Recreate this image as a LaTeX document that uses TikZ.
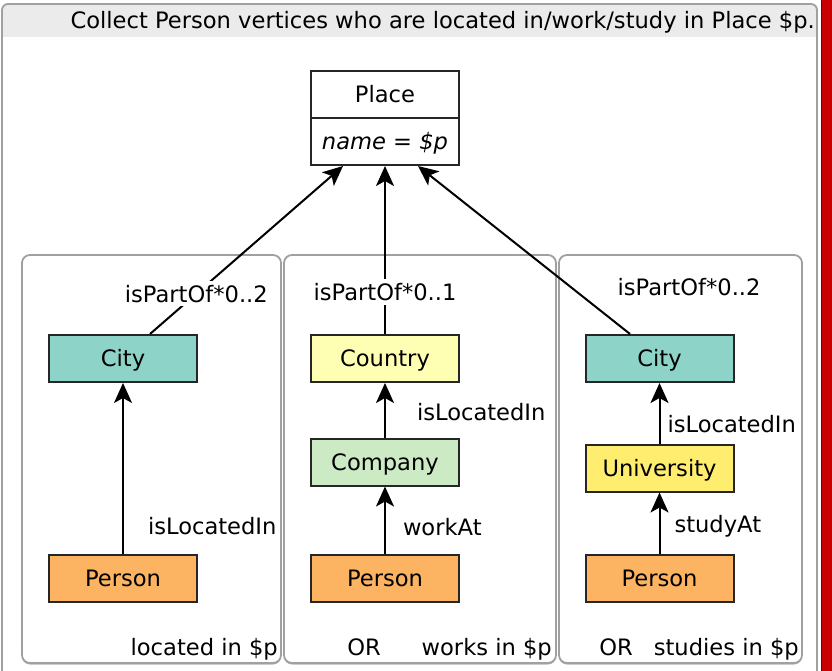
\documentclass[tikz,border=0pt]{standalone}
\usepackage{fontspec}
\setmainfont{DejaVu Sans}
\usetikzlibrary{positioning,arrows.meta,shadows}

\definecolor{cityteal}{HTML}{8DD3C7}
\definecolor{countryyellow}{HTML}{FFFFB3}
\definecolor{companygreen}{HTML}{CCEBC5}
\definecolor{personorange}{HTML}{FDB462}
\definecolor{uniyellow}{HTML}{FFED6F}
\definecolor{framegray}{HTML}{A0A0A0}
\definecolor{headgray}{HTML}{EBEBEB}
\definecolor{barred}{HTML}{C80000}

\begin{document}
\begin{tikzpicture}[
  x=1pt, y=-1pt,
  every node/.style={font=\fontsize{22.6pt}{27pt}\selectfont},
  vertex/.style={draw=black!85, line width=2pt, minimum width=148pt,
    minimum height=47pt, inner sep=0pt, text height=16pt, text depth=0pt},
  panel/.style={draw=framegray, line width=1.8pt, rounded corners=8pt, fill=white,
    drop shadow={shadow xshift=0pt, shadow yshift=-1.5pt, fill=black!30, opacity=1}},
  rel/.style={line width=2pt, -{Stealth[length=20pt, width=18pt, inset=5pt]}},
  lbl/.style={inner sep=4pt},
  note/.style={anchor=base east, inner sep=0pt}
]
  \useasboundingbox (0,0) rectangle (832,671);
  \clip (0,0) rectangle (832,671);

  % frame and title bar
  \begin{scope}
    \clip (0,0) rectangle (832,37);
    \fill[headgray, rounded corners=6pt] (2,4) rectangle (817,100);
  \end{scope}
  \draw[framegray, line width=1.8pt, rounded corners=6pt] (2,4) rectangle (817,720);
  \fill[barred, draw=barred!60!black, line width=1pt] (821.5,-2) rectangle (833,673);
  \node[note] (title) at (815,29) {Collect Person vertices who are located in/work/study in Place \$p.};

  % panels
  \node[panel, minimum width=259pt, minimum height=408pt] (leftpanel) at (151.5,459) {};
  \node[panel, minimum width=272pt, minimum height=408pt] (midpanel) at (420,459) {};
  \node[panel, minimum width=243pt, minimum height=408pt] (rightpanel) at (680.5,459) {};

  % place
  \node[vertex, fill=white] (place) at (385,94.5) {Place};
  \node[vertex, fill=white, below=-2pt of place] (placeattr) {\textit{name = \$p}};

  % located in
  \node[vertex, fill=cityteal] (lcity) at (123,358.5) {City};
  \node[vertex, fill=personorange] (lperson) at (123,578) {Person};

  % works in
  \node[vertex, fill=countryyellow] (country) at (385,358.5) {Country};
  \node[vertex, fill=companygreen] (company) at (385,462) {Company};
  \node[vertex, fill=personorange] (mperson) at (385,578) {Person};

  % studies in
  \node[vertex, fill=cityteal] (rcity) at (659.5,358.5) {City};
  \node[vertex, fill=uniyellow] (university) at (659.5,468) {University};
  \node[vertex, fill=personorange] (rperson) at (659.5,578) {Person};

  % edges
  \draw[rel] ([xshift=27pt]lcity.north) -- node[lbl, fill=white, pos=0.24] {isPartOf*0..2} ([xshift=-42pt]placeattr.south);
  \draw[rel] (country) -- node[lbl, fill=white, pos=0.25] {isPartOf*0..1} (placeattr);
  \draw[rel] ([xshift=-29.5pt]rcity.north) -- node[lbl, pos=0.28, right=42pt] {isPartOf*0..2} ([xshift=33pt]placeattr.south);

  \draw[rel] (lperson) -- node[lbl, pos=0.16, right=20pt] {isLocatedIn} (lcity);
  \draw[rel] (company) -- node[lbl, pos=0.46, right=27pt] {isLocatedIn} (country);
  \draw[rel] (mperson) -- node[lbl, pos=0.4, right=13pt] {workAt} (company);
  \draw[rel] (university) -- node[lbl, pos=0.32, right=3pt] {isLocatedIn} (rcity);
  \draw[rel] (rperson) -- node[lbl, pos=0.44, right=10pt] {studyAt} (university);

  % panel captions
  \node[note] (lnote) at (278,655) {located in \$p};
  \node[note, anchor=base] (orone) at (364,655) {OR};
  \node[note] (mnote) at (552,655) {works in \$p};
  \node[note, anchor=base] (ortwo) at (616,655) {OR};
  \node[note] (rnote) at (799,655) {studies in \$p};
\end{tikzpicture}
\end{document}
